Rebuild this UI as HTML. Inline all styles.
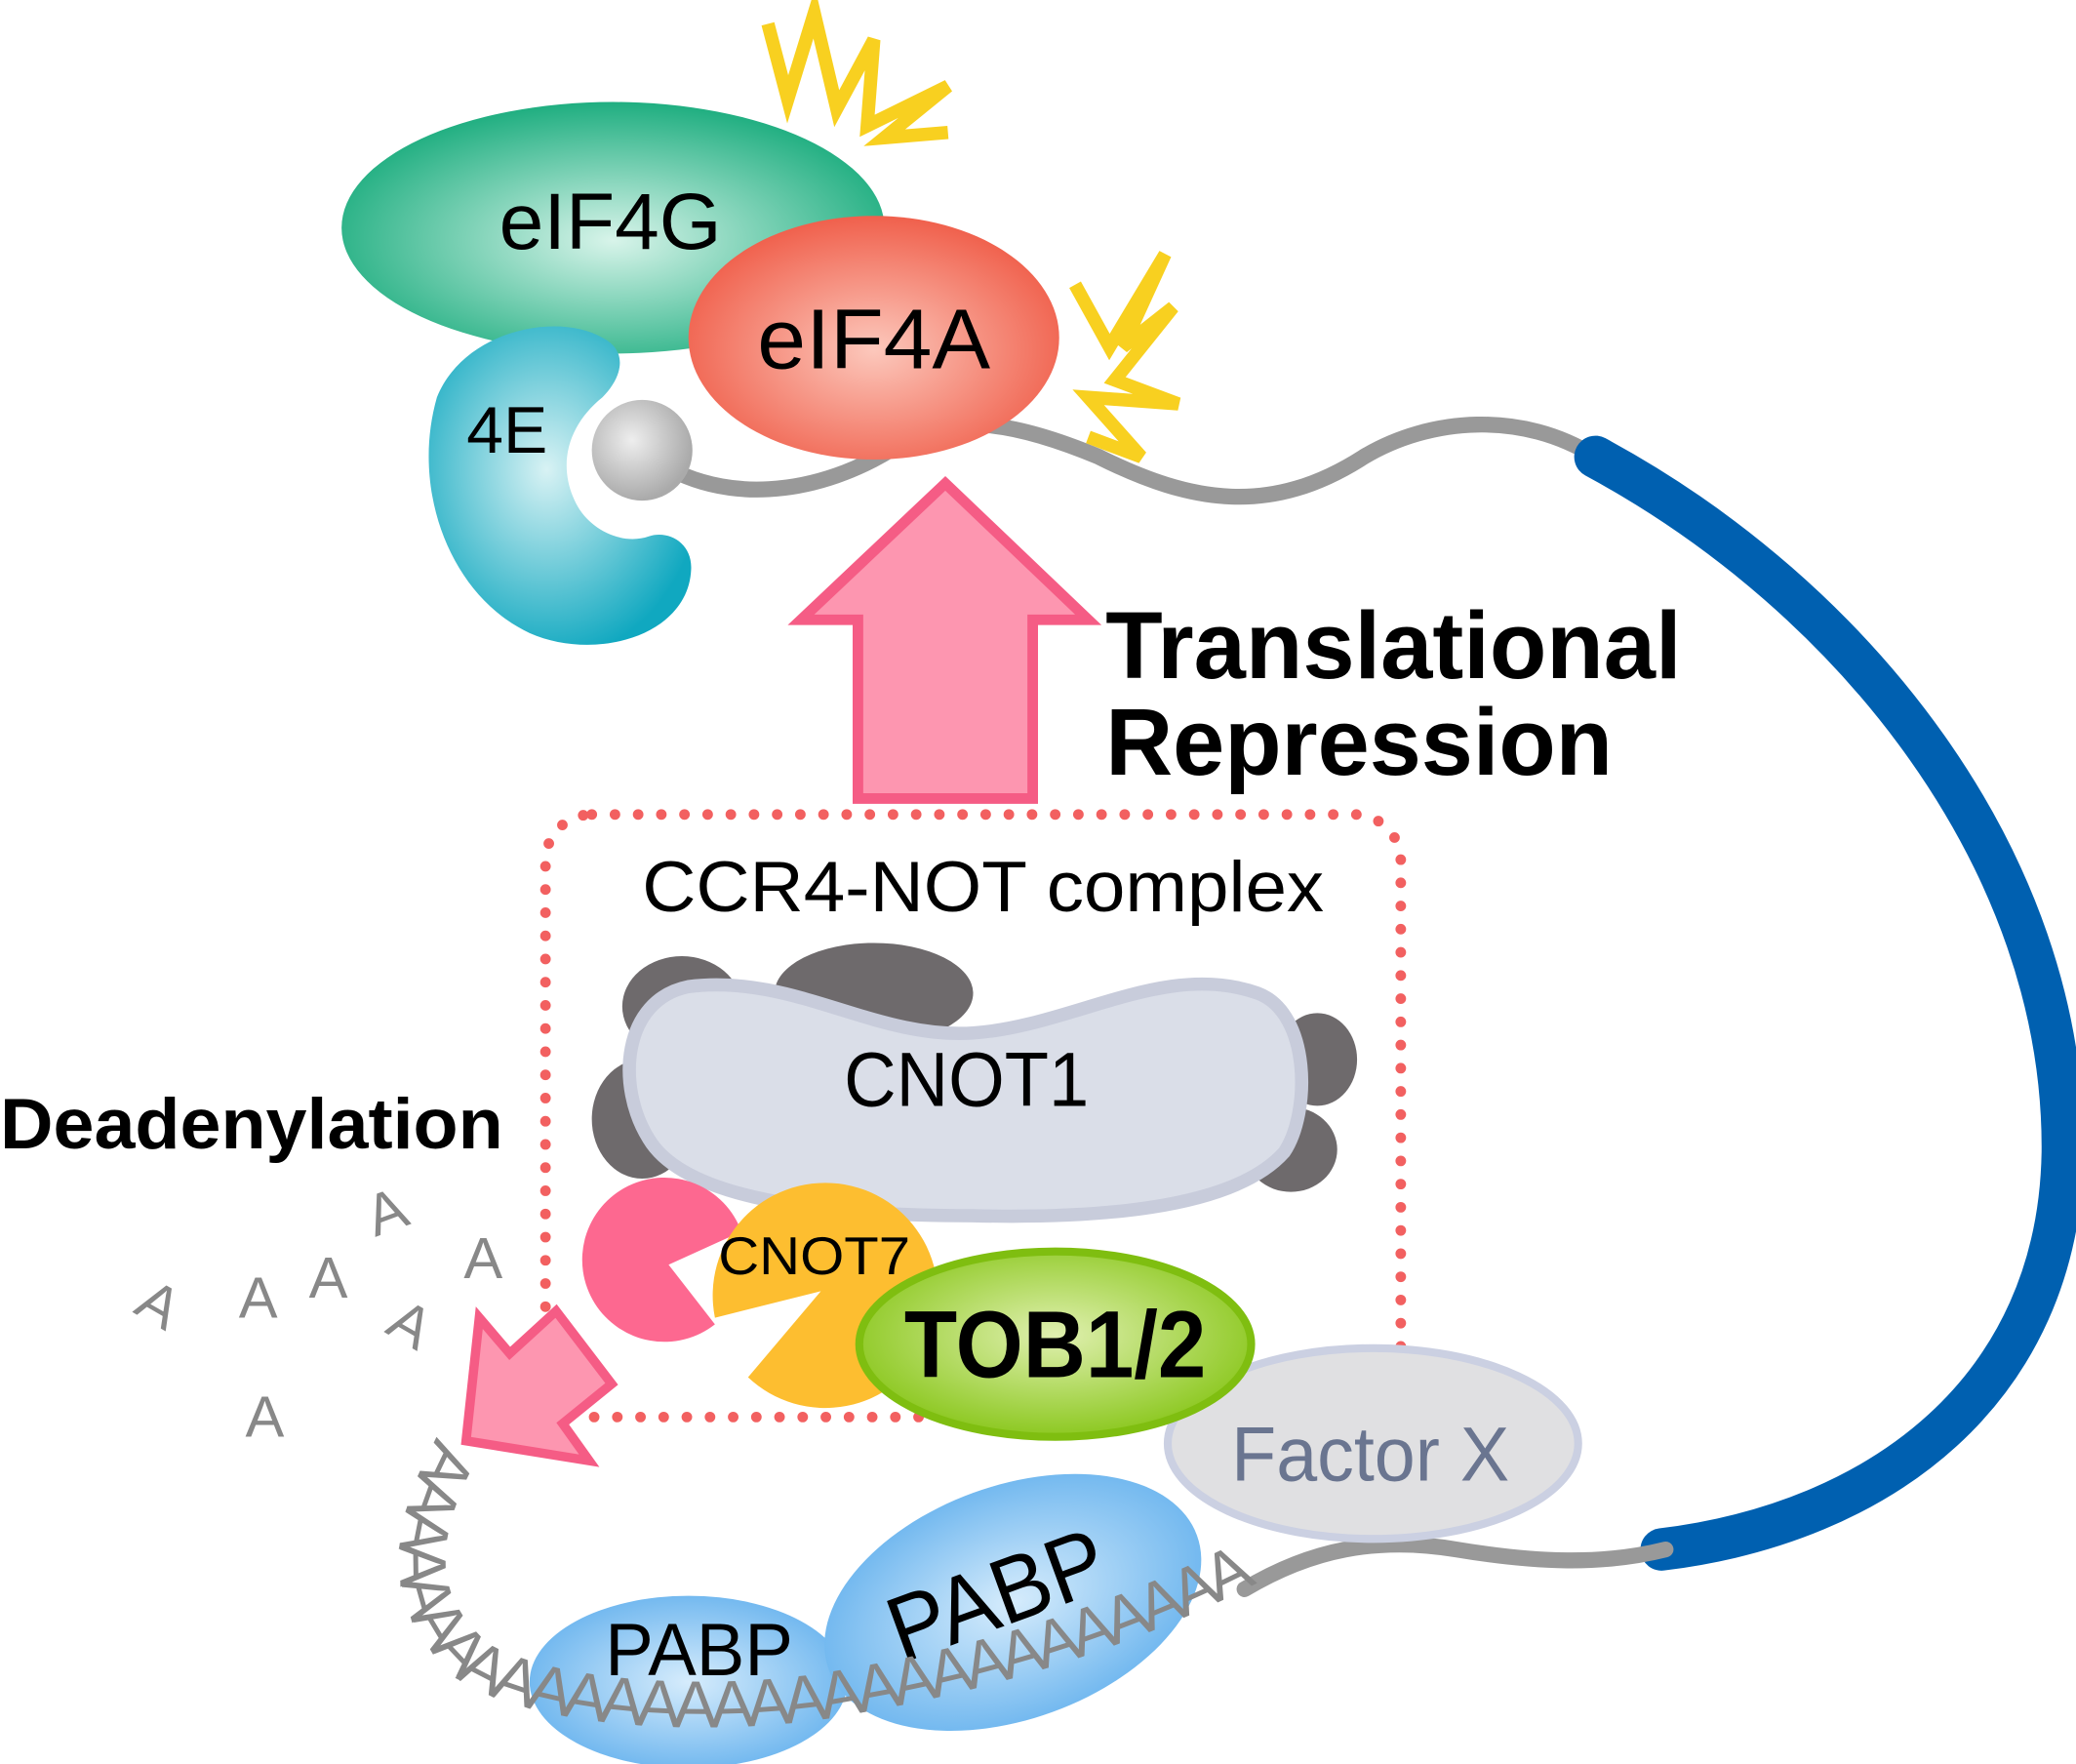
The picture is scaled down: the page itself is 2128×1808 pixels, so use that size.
<!DOCTYPE html>
<html><head><meta charset="utf-8"><style>html,body{margin:0;padding:0;background:#fff}svg{display:block}</style></head>
<body>
<svg width="2128" height="1808" viewBox="0 0 1568 1332" preserveAspectRatio="none" xmlns="http://www.w3.org/2000/svg" font-family="Liberation Sans, Arial, sans-serif">
<defs>
<radialGradient id="gG" cx="50%" cy="55%" r="55%"><stop offset="0" stop-color="#d8f4ea"/><stop offset="1" stop-color="#1fae80"/></radialGradient>
<radialGradient id="gA" cx="50%" cy="55%" r="55%"><stop offset="0" stop-color="#fcc8bc"/><stop offset="1" stop-color="#f0604c"/></radialGradient>
<radialGradient id="gE" cx="45%" cy="45%" r="60%"><stop offset="0" stop-color="#d8f2f4"/><stop offset="1" stop-color="#10a8c0"/></radialGradient>
<radialGradient id="gT" cx="50%" cy="45%" r="55%"><stop offset="0" stop-color="#e0f0b0"/><stop offset="1" stop-color="#8cc820"/></radialGradient>
<radialGradient id="gP" cx="50%" cy="50%" r="55%"><stop offset="0" stop-color="#d6ecfc"/><stop offset="1" stop-color="#6ab4ee"/></radialGradient>
<radialGradient id="gB" cx="40%" cy="40%" r="60%"><stop offset="0" stop-color="#eee"/><stop offset="1" stop-color="#aaa"/></radialGradient>
</defs>

<path d="M485,340 C540,385 620,375 680,335 C720,310 770,320 830,345 C900,380 960,390 1030,345 C1080,315 1150,310 1205,345" fill="none" stroke="#999" stroke-width="12" stroke-linecap="round"/>
<path d="M1205,345 C1400,450 1560,650 1558,870 C1555,1050 1420,1150 1255,1170" fill="none" stroke="#0060b0" stroke-width="32" stroke-linecap="round"/>
<path d="M940,1200 C990,1170 1040,1160 1100,1170 C1160,1180 1210,1182 1258,1170" fill="none" stroke="#999" stroke-width="12" stroke-linecap="round"/>

<ellipse cx="463" cy="172" rx="205" ry="95" fill="url(#gG)"/>
<text x="461" y="188" font-size="60" text-anchor="middle" textLength="168" lengthAdjust="spacingAndGlyphs">eIF4G</text>
<path d="M455,255 C420,235 350,250 330,300 C310,370 340,450 400,478 C450,500 520,480 522,430 C523,410 505,400 490,405 C470,412 445,400 435,380 C420,350 430,320 455,300 C470,285 475,265 455,255 Z" fill="url(#gE)"/>
<text x="383" y="342" font-size="50" text-anchor="middle">4E</text>
<circle cx="485" cy="340" r="38" fill="url(#gB)"/>
<ellipse cx="660" cy="255" rx="140" ry="92" fill="url(#gA)"/>
<text x="660" y="278" font-size="64" text-anchor="middle" textLength="176" lengthAdjust="spacingAndGlyphs">eIF4A</text>

<polyline points="580,18 595,75 615,10 632,82 660,30 655,95 716,65 668,104 716,100" fill="none" stroke="#f8d020" stroke-width="10"/>
<polyline points="812,215 838,262 880,192 848,262 886,232 842,287 890,305 822,300 862,345 822,330" fill="none" stroke="#f8d020" stroke-width="10"/>

<polygon points="714,365 822,468 780,468 780,603 648,603 648,468 605,468" fill="#fd96b0" stroke="#f55c85" stroke-width="8"/>
<text x="835" y="512" font-size="72" font-weight="bold" textLength="435" lengthAdjust="spacingAndGlyphs">Translational</text>
<text x="835" y="585" font-size="72" font-weight="bold" textLength="383" lengthAdjust="spacingAndGlyphs">Repression</text>

<rect x="412" y="615" width="646" height="455" rx="35" fill="none" stroke="#f26060" stroke-width="8" stroke-dasharray="0 17.5" stroke-linecap="round"/>
<text x="485" y="688" font-size="54" textLength="515" lengthAdjust="spacingAndGlyphs">CCR4-NOT complex</text>

<ellipse cx="515" cy="760" rx="45" ry="38" fill="#6e6a6c"/>
<ellipse cx="660" cy="750" rx="75" ry="38" fill="#6e6a6c"/>
<ellipse cx="995" cy="800" rx="30" ry="35" fill="#6e6a6c"/>
<ellipse cx="975" cy="868" rx="35" ry="32" fill="#6e6a6c"/>
<ellipse cx="485" cy="845" rx="38" ry="45" fill="#6e6a6c"/>
<path d="M520,745 C600,735 660,785 735,780 C810,775 880,725 950,750 C990,765 990,840 970,870 C930,915 820,920 735,918 C640,918 520,910 490,860 C465,820 470,755 520,745 Z" fill="#dadee8" stroke="#c8ccdb" stroke-width="10"/>
<text x="730" y="835" font-size="58" text-anchor="middle" textLength="185" lengthAdjust="spacingAndGlyphs">CNOT1</text>

<text x="0" y="867" font-size="54" font-weight="bold" textLength="380" lengthAdjust="spacingAndGlyphs">Deadenylation</text>

<path d="M505,955 L540,1000 A62,62 0 1 1 560,930 Z" fill="#fd6890"/>
<path d="M620,975 L540,995 A85,85 0 1 1 565,1040 Z" fill="#fdbe30"/>
<text x="615" y="962" font-size="40" text-anchor="middle" textLength="145" lengthAdjust="spacingAndGlyphs">CNOT7</text>

<ellipse cx="1037" cy="1090" rx="155" ry="72" fill="#e0e0e2" stroke="#cbd0e2" stroke-width="6"/>
<text x="1035" y="1118" font-size="58" text-anchor="middle" fill="#6a7590" textLength="210" lengthAdjust="spacingAndGlyphs">Factor X</text>
<ellipse cx="797" cy="1015" rx="148" ry="70" fill="url(#gT)" stroke="#7fbe10" stroke-width="6"/>
<text x="797" y="1040" font-size="72" font-weight="bold" text-anchor="middle" textLength="228" lengthAdjust="spacingAndGlyphs">TOB1/2</text>

<polygon points="352,1088 362,995 385,1022 420,990 462,1045 425,1075 445,1103" fill="#fd96b0" stroke="#f55c85" stroke-width="7"/>

<ellipse cx="520" cy="1270" rx="120" ry="65" fill="url(#gP)"/>
<ellipse cx="765" cy="1210" rx="148" ry="88" fill="url(#gP)" transform="rotate(-20 765 1210)"/>
<text x="528" y="1265" font-size="56" text-anchor="middle" textLength="142" lengthAdjust="spacingAndGlyphs">PABP</text>
<text x="755" y="1228" font-size="70" text-anchor="middle" transform="rotate(-20 755 1210)" textLength="170" lengthAdjust="spacingAndGlyphs">PABP</text>

<path id="pa" d="M330,1085 C290,1160 290,1220 350,1270 C420,1310 560,1310 640,1295 C760,1275 860,1240 940,1200" fill="none"/>
<text font-size="50" fill="#888" letter-spacing="-5"><textPath href="#pa">AAAAAAAAAAAAAAAAAAAAAAAAAAAAAAAAAAAAAAA</textPath></text>
<g font-size="44" fill="#888" text-anchor="middle">
<text x="120" y="1000" transform="rotate(30 120 985)">A</text>
<text x="195" y="995">A</text>
<text x="248" y="980">A</text>
<text x="292" y="930" transform="rotate(-20 292 915)">A</text>
<text x="365" y="965">A</text>
<text x="310" y="1015" transform="rotate(30 310 1000)">A</text>
<text x="200" y="1085">A</text>
</g>
</svg>
</body></html>
